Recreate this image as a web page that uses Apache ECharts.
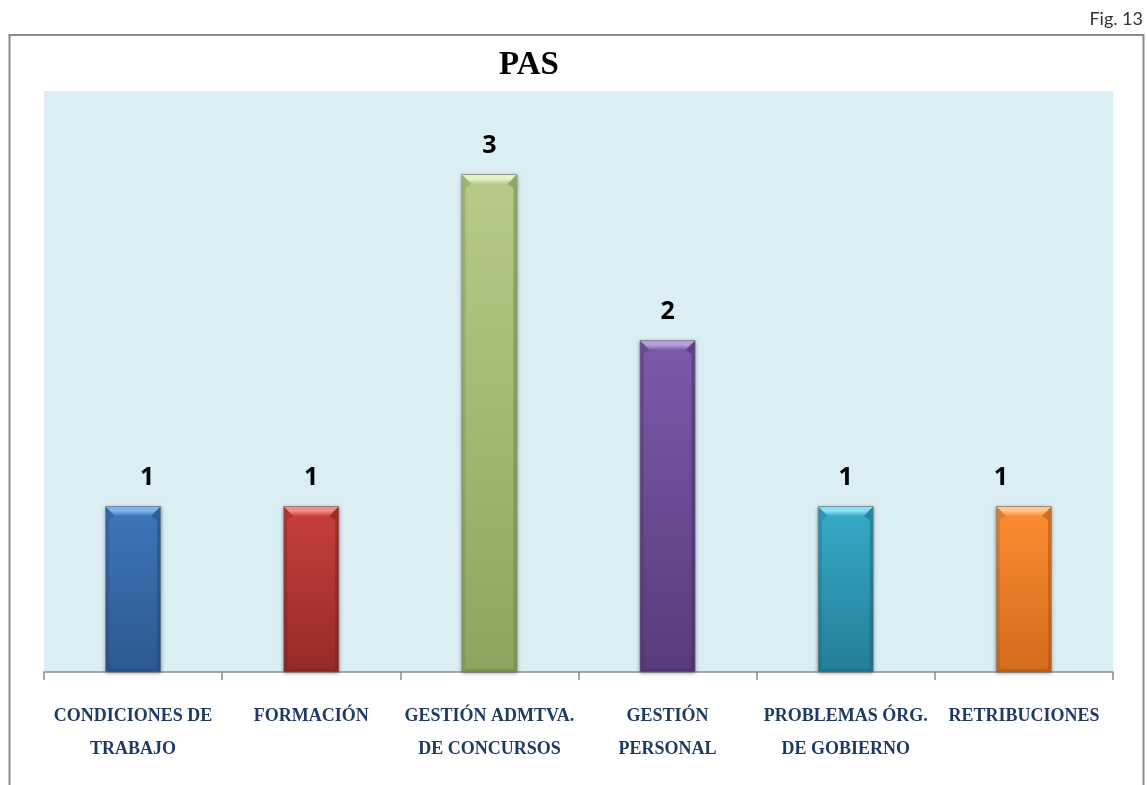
<!DOCTYPE html>
<html>
<head>
<meta charset="utf-8">
<title>PAS</title>
<script src="https://cdn.jsdelivr.net/npm/echarts@6/dist/echarts.min.js"></script>
<style>
  html, body { margin: 0; padding: 0; background: #ffffff; }
  #chart { width: 1147px; height: 785px; }
</style>
</head>
<body>
<div id="chart"></div>
<script>
// Categories (tick labels, with their line breaks)
const categories = [
  'CONDICIONES DE\nTRABAJO',
  'FORMACIÓN',
  'GESTIÓN ADMTVA.\nDE CONCURSOS',
  'GESTIÓN\nPERSONAL',
  'PROBLEMAS ÓRG.\nDE GOBIERNO',
  'RETRIBUCIONES'
];
// Number of cases per category
const values = [1, 1, 3, 2, 1, 1];

// Bar palette: [top, bottom, bevel light, edge dark]
const barColors = [
  ['#3E76BB', '#2C5890', '#80B2EE', '#24487A'],
  ['#C8403C', '#962A28', '#F48C88', '#7C2220'],
  ['#B6CC88', '#8DA55E', '#E4F2C6', '#74884C'],
  ['#7C59AA', '#573C7B', '#B8A0DA', '#472F66'],
  ['#36ABC8', '#247E98', '#8ADFF4', '#1C6A80'],
  ['#FC8E33', '#D36B1C', '#FFC68C', '#B0581A']
];
// Horizontal nudge of a few value labels
const labelShift = [14, 0, 0, 0, 0, -23];

const chart = echarts.init(document.getElementById('chart'), null, { renderer: 'canvas' });

const barData = values.map((v, i) => ({
  value: v,
  itemStyle: {
    color: new echarts.graphic.LinearGradient(0, 0, 0, 1, [
      { offset: 0, color: barColors[i][0] },
      { offset: 1, color: barColors[i][1] }
    ]),
    borderColor: 'rgba(120,120,120,0.6)',
    borderWidth: 1,
    shadowBlur: 4,
    shadowColor: 'rgba(0,0,0,0.35)',
    shadowOffsetY: 1
  },
  label: { offset: [labelShift[i], 0] }
}));

// Bevel facets laid over each bar
function renderBevel(params, api) {
  const idx = api.value(0);
  const top = api.coord([idx, api.value(1)]);
  const base = api.coord([idx, 0]);
  const w = api.size([1, 0])[0] * 0.315;
  const x0 = top[0] - w / 2 + 1, x1 = top[0] + w / 2 - 1;
  const y0 = top[1] + 1, y1 = base[1];
  const b = 9, s = 3;
  const c = barColors[idx];
  return {
    type: 'group',
    children: [
      {
        type: 'polygon',
        shape: { points: [[x0, y0], [x1, y0], [x1 - b, y0 + b], [x0 + b, y0 + b]] },
        style: {
          fill: new echarts.graphic.LinearGradient(0, 0, 0, 1, [
            { offset: 0, color: c[2] },
            { offset: 0.45, color: c[2] },
            { offset: 1, color: c[0] }
          ])
        }
      },
      {
        type: 'polygon',
        shape: { points: [[x0, y0], [x0 + b, y0 + b], [x0 + s, y0 + b + 4], [x0 + s, y1 - s], [x0, y1]] },
        style: { fill: c[3], opacity: 0.3 }
      },
      {
        type: 'polygon',
        shape: { points: [[x1, y0], [x1 - b, y0 + b], [x1 - s, y0 + b + 4], [x1 - s, y1 - s], [x1, y1]] },
        style: { fill: c[3], opacity: 0.55 }
      },
      {
        type: 'polygon',
        shape: { points: [[x0, y1], [x1, y1], [x1 - s, y1 - s], [x0 + s, y1 - s]] },
        style: { fill: c[3], opacity: 0.6 }
      }
    ]
  };
}

chart.setOption({
  animation: false,
  title: {
    text: 'PAS',
    left: 524,
    top: 44,
    textAlign: 'center',
    textStyle: { fontFamily: 'Liberation Serif', fontWeight: 'bold', fontSize: 33, color: '#000000' }
  },
  grid: {
    left: 44, right: 34, top: 91, bottom: 113,
    show: true, backgroundColor: '#DBEEF4', borderWidth: 0
  },
  xAxis: {
    type: 'category',
    data: categories,
    axisLine: { lineStyle: { color: '#8C8C8C', width: 1.5 } },
    axisTick: { show: true, length: 8, lineStyle: { color: '#8C8C8C', width: 1.5 } },
    axisLabel: {
      interval: 0,
      margin: 28,
      fontFamily: 'Liberation Serif',
      fontWeight: 'bold',
      fontSize: 18,
      lineHeight: 33,
      color: '#1F3A63'
    }
  },
  yAxis: {
    type: 'value',
    min: 0,
    max: 3.5,
    show: false,
    splitLine: { show: false }
  },
  graphic: [
    {
      type: 'rect',
      shape: { x: 9.5, y: 35, width: 1134, height: 800 },
      style: { fill: 'none', stroke: '#8A8A8A', lineWidth: 2 },
      silent: true,
      z: -1
    },
    {
      type: 'text',
      right: 4,
      top: 10,
      style: { text: 'Fig. 13', fontFamily: 'Lato', fontSize: 18, fill: '#333333' }
    }
  ],
  series: [
    {
      type: 'bar',
      data: barData,
      barWidth: '31.5%',
      label: {
        show: true,
        position: 'top',
        distance: 16,
        fontFamily: 'Open Sans',
        fontWeight: 'bold',
        fontSize: 25,
        color: '#000000'
      },
      z: 2
    },
    {
      type: 'custom',
      renderItem: renderBevel,
      data: values.map((v, i) => [i, v]),
      silent: true,
      z: 3
    }
  ]
});
</script>
</body>
</html>
